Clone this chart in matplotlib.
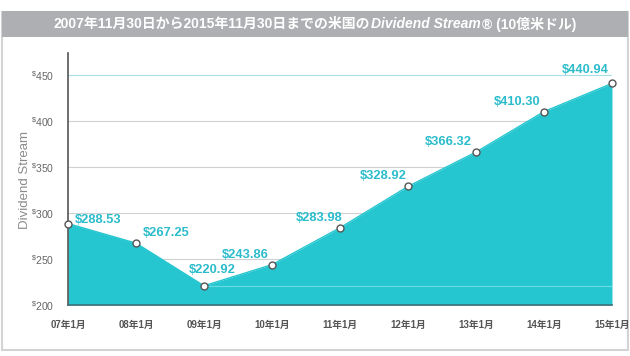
import matplotlib
matplotlib.use("Agg")
import matplotlib.pyplot as plt
from matplotlib.patches import Rectangle

plt.rcParams['font.family'] = ['Liberation Sans', 'Noto Sans CJK JP', 'DejaVu Sans']
plt.rcParams['mathtext.fontset'] = 'custom'
plt.rcParams['mathtext.rm'] = 'Liberation Sans'

x_labels = ["07年1月", "08年1月", "09年1月", "10年1月", "11年1月", "12年1月", "13年1月", "14年1月", "15年1月"]
values = [288.53, 267.25, 220.92, 243.86, 283.98, 328.92, 366.32, 410.30, 440.94]
y_ticks = [200, 250, 300, 350, 400, 450]
label_offsets = [(7, 4, 'left'), (7, 10, 'left'), (8, 16, 'center'), (-27, 10, 'center'),
                 (-21, 10, 'center'), (-25, 10, 'center'), (-28, 10, 'center'),
                 (-27, 10, 'center'), (-27, 13, 'center')]

W, H = 630, 356
fig = plt.figure(figsize=(W/100, H/100), dpi=100)
fig.patch.set_facecolor('white')

# outer frame and title bar
fig.patches.append(Rectangle((2/W, 6/H), 626/W, 338/H, transform=fig.transFigure,
                             facecolor='white', edgecolor='#d2d3d5', linewidth=1.5, zorder=-2))
fig.patches.append(Rectangle((2/W, (H-37)/H), 626/W, 26/H, transform=fig.transFigure,
                             facecolor='#adafb2', edgecolor='none', zorder=-1))
t1 = "2007年11月30日から2015年11月30日までの米国の"
t2 = "Dividend Stream"
t3 = "® (10億米ドル)"
ty = (H-24)/H
fs = 10
txt1 = fig.text(58/W, ty, t1, color='white', fontsize=fs, fontweight='bold', va='center', ha='left')
fig.canvas.draw()
r = fig.canvas.get_renderer()
bb1 = txt1.get_window_extent(r)
txt2 = fig.text(bb1.x1/W + 0.002, ty, t2, color='white', fontsize=fs, fontweight='bold',
                fontstyle='italic', va='center', ha='left')
bb2 = txt2.get_window_extent(r)
txt3 = fig.text(bb2.x1/W + 0.002, ty, t3, color='white', fontsize=fs, fontweight='bold',
                va='center', ha='left')
bb3 = txt3.get_window_extent(r)
total = bb3.x1 - bb1.x0
shift = (W/2 - total/2) - bb1.x0
for t in (txt1, txt2, txt3):
    px, py = t.get_position()
    t.set_position((px + shift/W, py))

ax = fig.add_axes([68/W, (H-305)/H, (612-68)/W, (305-53)/H])
ax.set_zorder(2)
ax.set_facecolor('none')
xs = list(range(len(values)))
ax.fill_between(xs, values, 200, color='#26c6d0', zorder=2, linewidth=0)
ax.plot(xs, values, color='#26c6d0', linewidth=1, zorder=3)
ax.plot(xs, values, 'o', markersize=5, markerfacecolor='white', markeredgecolor='#555555',
        markeredgewidth=1, zorder=5, clip_on=False)

for yv in y_ticks[1:]:
    ax.axhline(yv, color='#a8dfe5' if yv == 450 else '#cfd0d2', linewidth=0.8, zorder=1)
ax.axhline(values[2], color='#7fe0e6', alpha=0.8, linewidth=0.8, zorder=2.5, xmin=2/8)

for i, (v, (dx, dy, ha)) in enumerate(zip(values, label_offsets)):
    ax.annotate(f"${v:.2f}", (i, v), xytext=(dx, dy), textcoords='offset pixels',
                ha=ha, va='center', color='#2bbccb', fontsize=9.3, fontweight='bold',
                zorder=6)

ax.set_xlim(0, len(values) - 1)
ax.set_ylim(200, 474)
ax.set_xticks(xs)
ax.set_xticklabels(x_labels)
ax.set_yticks(y_ticks)
ax.set_yticklabels([f"$^{{\\$}}${v}" for v in y_ticks])
ax.tick_params(axis='both', length=0, colors='#555555')
ax.tick_params(axis='x', pad=11, labelsize=7)
ax.tick_params(axis='y', pad=10, labelsize=7.5)
for lab in ax.get_xticklabels():
    lab.set_fontweight('bold')
for lab in ax.get_yticklabels():
    lab.set_color('#666666')
for s in ['top', 'right']:
    ax.spines[s].set_visible(False)
ax.spines['left'].set_color('#555555')
ax.spines['bottom'].set_color('#3f6f78')
ax.spines['left'].set_linewidth(1.2)
ax.spines['bottom'].set_linewidth(1.2)
ax.spines['left'].set_zorder(4)
ax.spines['bottom'].set_zorder(4)

fig.text(25/W, (H-180)/H, "Dividend Stream", rotation=90, color='#8a8c8e', fontsize=9.5,
         ha='center', va='center')

fig.savefig("out.png", dpi=100)
